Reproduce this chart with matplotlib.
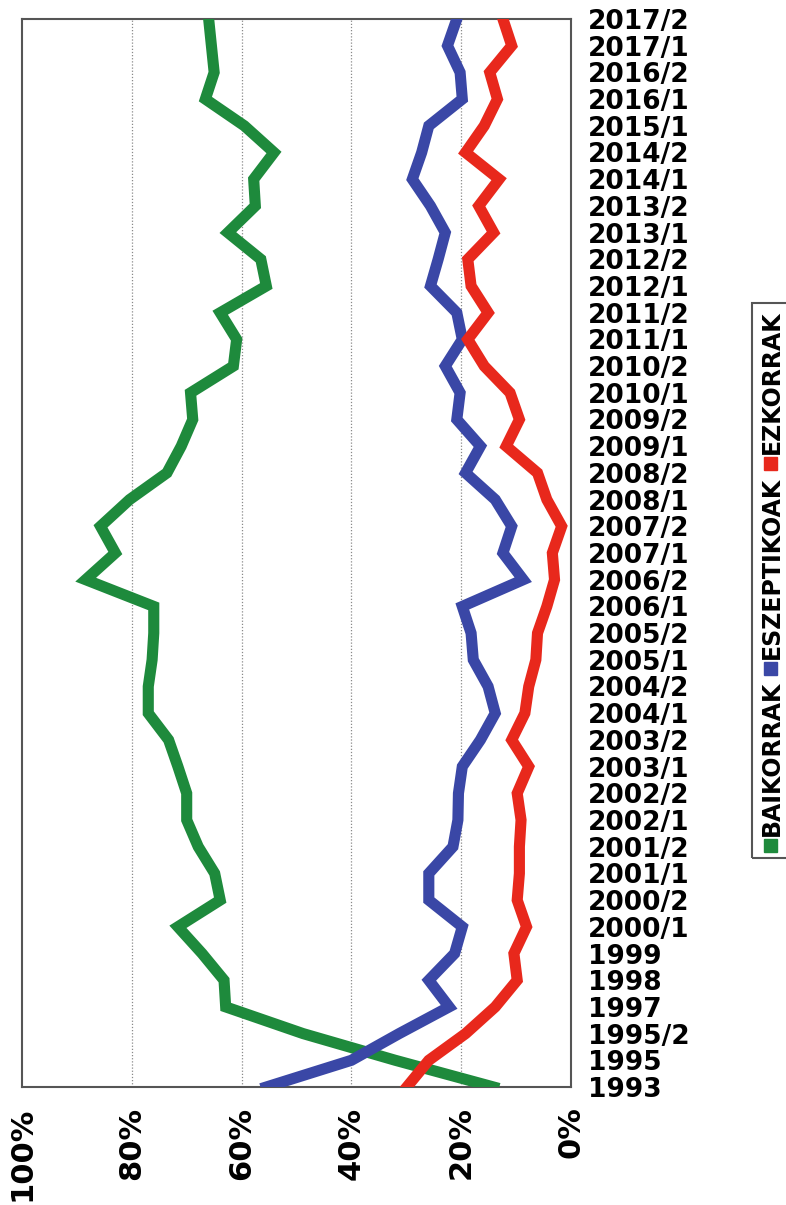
import numpy as np
import matplotlib
matplotlib.use("Agg")
import matplotlib.pyplot as plt
from matplotlib.patches import Rectangle

# periods, bottom (oldest) to top (newest)
periods = ["1993", "1995", "1995/2", "1997", "1998", "1999",
           "2000/1", "2000/2", "2001/1", "2001/2", "2002/1", "2002/2",
           "2003/1", "2003/2", "2004/1", "2004/2", "2005/1", "2005/2",
           "2006/1", "2006/2", "2007/1", "2007/2", "2008/1", "2008/2",
           "2009/1", "2009/2", "2010/1", "2010/2", "2011/1", "2011/2",
           "2012/1", "2012/2", "2013/1", "2013/2", "2014/1", "2014/2",
           "2015/1", "2016/1", "2016/2", "2017/1", "2017/2"]

baikorrak = [14.1, 32.0, 48.8, 62.9, 63.2, 67.2, 71.6, 63.9, 64.9, 67.9,
             70.0, 70.0, 71.6, 73.3, 77.0, 77.0, 76.3, 76.0, 76.0, 88.4,
             83.0, 85.7, 80.4, 73.6, 71.0, 68.9, 69.3, 61.5, 60.9, 63.9,
             55.5, 56.5, 62.5, 57.5, 57.8, 54.1, 59.5, 66.6, 65.0, 65.5, 66.0]
eszeptikoak = [55.5, 40.0, 31.3, 22.2, 25.9, 21.2, 19.8, 25.9, 25.9, 21.5,
               20.6, 20.5, 19.8, 16.5, 13.8, 15.1, 17.8, 18.2, 19.8, 8.7,
               12.4, 10.8, 13.8, 19.2, 16.5, 20.8, 20.2, 22.9, 19.8, 20.8,
               25.6, 24.2, 22.9, 25.6, 28.9, 27.2, 25.9, 19.8, 20.2, 22.5, 20.8]
ezkorrak = [29.9, 25.9, 19.2, 13.8, 9.8, 10.4, 8.1, 9.8, 9.4, 9.4,
            9.1, 9.8, 7.7, 10.8, 8.4, 7.7, 6.4, 6.1, 4.4, 3.0,
            3.4, 1.7, 4.4, 6.1, 11.8, 9.4, 11.1, 15.8, 18.8, 15.1,
            18.2, 18.8, 14.1, 16.8, 13.1, 19.2, 15.8, 13.4, 14.8, 10.8, 12.4]

series_names = ["BAIKORRAK", "ESZEPTIKOAK", "EZKORRAK"]
colors = ["#1e8a3c", "#3a47a6", "#e8281c"]

plt.rcParams["font.family"] = ["DejaVu Sans"]

W, H = 786, 1205
fig = plt.figure(figsize=(W / 100, H / 100), dpi=100)
ax = fig.add_axes([22 / W, 1 - 1087 / H, (571 - 22) / W, (1087 - 19) / H])

y = np.arange(len(periods))
for vals, c in zip([baikorrak, eszeptikoak, ezkorrak], colors):
    ax.plot(vals, y, color=c, lw=8, solid_joinstyle="miter", zorder=3)

ax.set_xlim(100, 0)
ax.set_ylim(0, len(periods) - 1)

# percentage axis (drawn along the bottom, rotated)
xt = list(range(0, 101, 20))
ax.set_xticks(xt)
ax.set_xticklabels([f"{v}%" for v in xt], rotation=90, fontsize=22,
                   fontweight="bold")
ax.tick_params(axis="x", length=0, pad=14)
for v in xt[1:-1]:
    ax.axvline(v, color="#8a8a8a", lw=0.9, ls=(0, (1, 1.5)), zorder=1)

# period labels on the right
ax.yaxis.tick_right()
ax.set_yticks(y)
ax.set_yticklabels(periods, fontsize=19, fontweight="bold")
ax.tick_params(axis="y", length=0, pad=12)

for s in ax.spines.values():
    s.set_color("#555555")
    s.set_linewidth(1.5)

# legend box, vertical, partly cut by the right edge
fig.patches.append(Rectangle((752 / W, 1 - 858 / H), 0.1, 555 / H,
                             transform=fig.transFigure, fill=False,
                             edgecolor="#555555", lw=1.5))

fig.canvas.draw()
renderer = fig.canvas.get_renderer()
pos = H - 852  # pixels from the bottom
sq = 13
for name, c in zip(series_names, colors):
    fig.patches.append(Rectangle((764 / W, pos / H), sq / W, sq / H,
                                 transform=fig.transFigure, color=c))
    pos += sq + 3
    t = fig.text(772 / W, pos / H, name, rotation=90, ha="center",
                 va="bottom", fontsize=17, fontweight="bold")
    pos += t.get_window_extent(renderer).height + 6

fig.savefig("out.png", dpi=100)
